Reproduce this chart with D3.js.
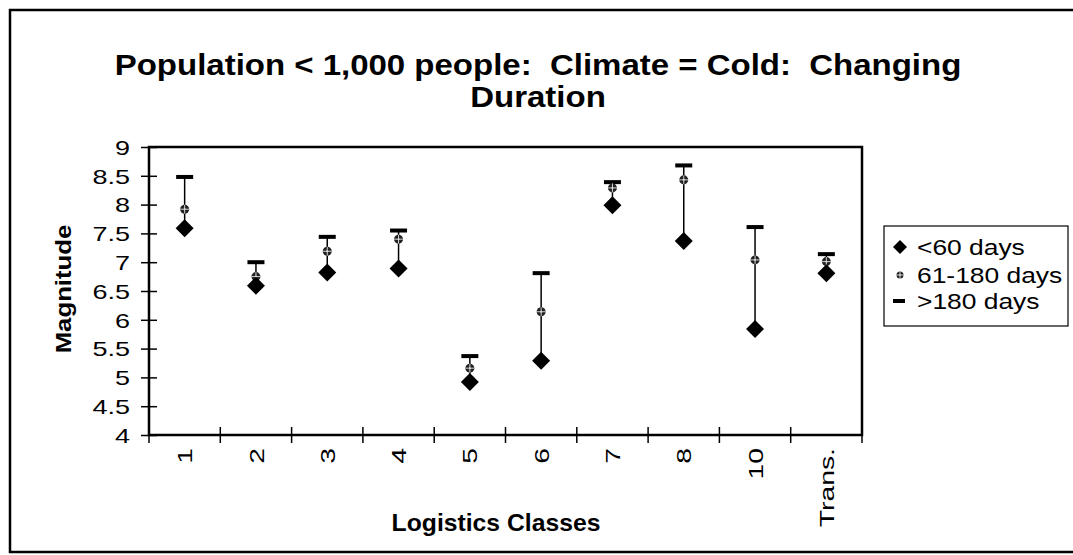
<html>
<head>
<meta charset="utf-8">
<title>Population &lt; 1,000 people: Climate = Cold</title>
<style type="text/css">
    body { margin: 0; background: #fff; }
    text { font-family: "Liberation Sans", Arial, sans-serif; fill: #000; white-space: pre; }
</style>
</head>
<body>
<script src="https://d3js.org/d3.v7.min.js"></script>
<script>

    // data
    var categories = ["1", "2", "3", "4", "5", "6", "7", "8", "10", "Trans."];
    var under60 = [7.59, 6.59, 6.82, 6.89, 4.92, 5.29, 7.99, 7.37, 5.84, 6.81];
    var days61to180 = [7.92, 6.75, 7.19, 7.40, 5.16, 6.14, 8.29, 8.43, 7.04, 7.01];
    var over180 = [8.48, 7.00, 7.44, 7.55, 5.37, 6.81, 8.39, 8.68, 7.61, 7.14];
    var yTicks = [4, 4.5, 5, 5.5, 6, 6.5, 7, 7.5, 8, 8.5, 9];
    var seriesNames = ["<60 days", "61-180 days", ">180 days"];

    var width = 1073, height = 555;
    var plot = {left: 149, right: 862, top: 147, bottom: 435};

    var svg = d3.select("body").append("svg")
        .attr("width", width)
        .attr("height", height);

    var x = d3.scaleBand()
        .domain(categories)
        .range([plot.left, plot.right]);
    var y = d3.scaleLinear()
        .domain([4, 9])
        .range([plot.bottom, plot.top]);

    // outer chart border
    svg.append("rect")
        .attr("x", 10).attr("y", 10)
        .attr("width", 1080).attr("height", 542)
        .style("fill", "none").style("stroke", "#000").style("stroke-width", 2.5);

    // title
    var title = svg.append("text")
        .attr("text-anchor", "middle")
        .attr("xml:space", "preserve")
        .style("font-weight", "bold")
        .style("font-size", "30px");
    title.append("tspan").attr("x", 0).attr("y", 0)
        .text("Population < 1,000 people:  Climate = Cold:  Changing");
    title.append("tspan").attr("x", 0).attr("y", 32)
        .text("Duration");
    title.attr("transform", "translate(538,75) scale(1.1,1)");

    // plot frame
    svg.append("rect")
        .attr("x", plot.left).attr("y", plot.top)
        .attr("width", plot.right - plot.left).attr("height", plot.bottom - plot.top)
        .style("fill", "none").style("stroke", "#000").style("stroke-width", 2.5);

    // y axis
    svg.append("g")
        .attr("transform", "translate(" + plot.left + ",0)")
        .call(d3.axisLeft(y).tickValues(yTicks).tickFormat(d3.format("")).tickSizeOuter(0))
        .call(function (g) {
            g.select(".domain").remove();
            g.selectAll(".tick line").attr("x1", -8).attr("x2", 8)
                .style("stroke", "#000").style("stroke-width", 1.5);
            g.selectAll(".tick text")
                .attr("x", null).attr("dy", "0.36em")
                .attr("transform", "translate(-19,0) scale(1.35,1)")
                .attr("text-anchor", "end")
                .style("font-size", "20px").style("font-family", "Liberation Sans, Arial, sans-serif");
        });

    // x axis, labels at the band centres
    svg.append("g")
        .attr("transform", "translate(0," + plot.bottom + ")")
        .call(d3.axisBottom(x).tickSize(0))
        .call(function (g) {
            g.select(".domain").remove();
            g.selectAll(".tick text")
                .attr("y", null).attr("dy", "0.36em")
                .attr("transform", "translate(0,13) rotate(-90) scale(1.35,1)")
                .attr("text-anchor", "end")
                .style("font-size", "21px").style("font-family", "Liberation Sans, Arial, sans-serif");
        });

    // x tick marks on the band boundaries
    var bounds = categories.map(function (c) { return x(c); }).concat([x.range()[1]]);
    svg.selectAll(".xtick")
        .data(bounds)
        .enter().append("line")
        .attr("class", "xtick")
        .attr("x1", function (d) { return d; })
        .attr("x2", function (d) { return d; })
        .attr("y1", plot.bottom - 8)
        .attr("y2", plot.bottom + 8)
        .style("stroke", "#000").style("stroke-width", 1.5);

    // axis titles
    svg.append("text")
        .attr("text-anchor", "middle")
        .attr("transform", "translate(71,289) rotate(-90) scale(1.12,1)")
        .style("font-weight", "bold").style("font-size", "23px")
        .text("Magnitude");

    svg.append("text")
        .attr("text-anchor", "middle")
        .attr("transform", "translate(496,531) scale(1.03,1)")
        .style("font-weight", "bold").style("font-size", "24px")
        .text("Logistics Classes");

    var rows = categories.map(function (c, i) {
        return {cat: c, a: under60[i], b: days61to180[i], c: over180[i]};
    });

    function drawDiamond(g, cx, cy, r) {
        g.append("path")
            .attr("d", "M" + cx + "," + (cy - r) + "L" + (cx + r) + "," + cy +
                "L" + cx + "," + (cy + r) + "L" + (cx - r) + "," + cy + "Z")
            .style("fill", "#000");
    }
    function drawStar(g, cx, cy, r) {
        g.append("circle").attr("cx", cx).attr("cy", cy).attr("r", r)
            .style("fill", "#222");
        g.append("path")
            .attr("d", "M" + (cx - r) + "," + cy + "H" + (cx + r) +
                "M" + cx + "," + (cy - r) + "V" + (cy + r))
            .style("stroke", "#fff").style("stroke-width", 0.8);
        g.append("circle").attr("cx", cx).attr("cy", cy).attr("r", r * 0.22)
            .style("fill", "#ddd");
    }
    function drawDash(g, cx, cy, w) {
        g.append("rect")
            .attr("x", cx - w / 2).attr("y", cy - 2)
            .attr("width", w).attr("height", 4)
            .style("fill", "#000");
    }

    // high-low lines
    svg.selectAll(".hilo")
        .data(rows)
        .enter().append("line")
        .attr("class", "hilo")
        .attr("x1", function (d) { return x(d.cat) + x.bandwidth() / 2; })
        .attr("x2", function (d) { return x(d.cat) + x.bandwidth() / 2; })
        .attr("y1", function (d) { return y(Math.min(d.a, d.b, d.c)); })
        .attr("y2", function (d) { return y(Math.max(d.a, d.b, d.c)); })
        .style("stroke", "#000").style("stroke-width", 1.5);

    var marks = svg.append("g");
    rows.forEach(function (d) {
        var cx = x(d.cat) + x.bandwidth() / 2;
        drawDash(marks, cx, y(d.c), 17);
        drawStar(marks, cx, y(d.b), 4.5);
        drawDiamond(marks, cx, y(d.a), 9);
    });

    // legend
    var legend = svg.append("g").attr("transform", "translate(884,226)");
    legend.append("rect")
        .attr("width", 184).attr("height", 100)
        .style("fill", "#fff").style("stroke", "#000").style("stroke-width", 1.2);
    var rowY = [21, 49, 75];
    seriesNames.forEach(function (name, i) {
        if (i === 0) drawDiamond(legend, 16, rowY[i], 7);
        if (i === 1) drawStar(legend, 16, rowY[i], 3.5);
        if (i === 2) drawDash(legend, 15, rowY[i], 12);
        legend.append("text")
            .attr("transform", "translate(33," + rowY[i] + ") scale(1.2,1)")
            .attr("dy", "0.36em")
            .style("font-size", "22px")
            .text(name);
    });

</script>
</body>
</html>
